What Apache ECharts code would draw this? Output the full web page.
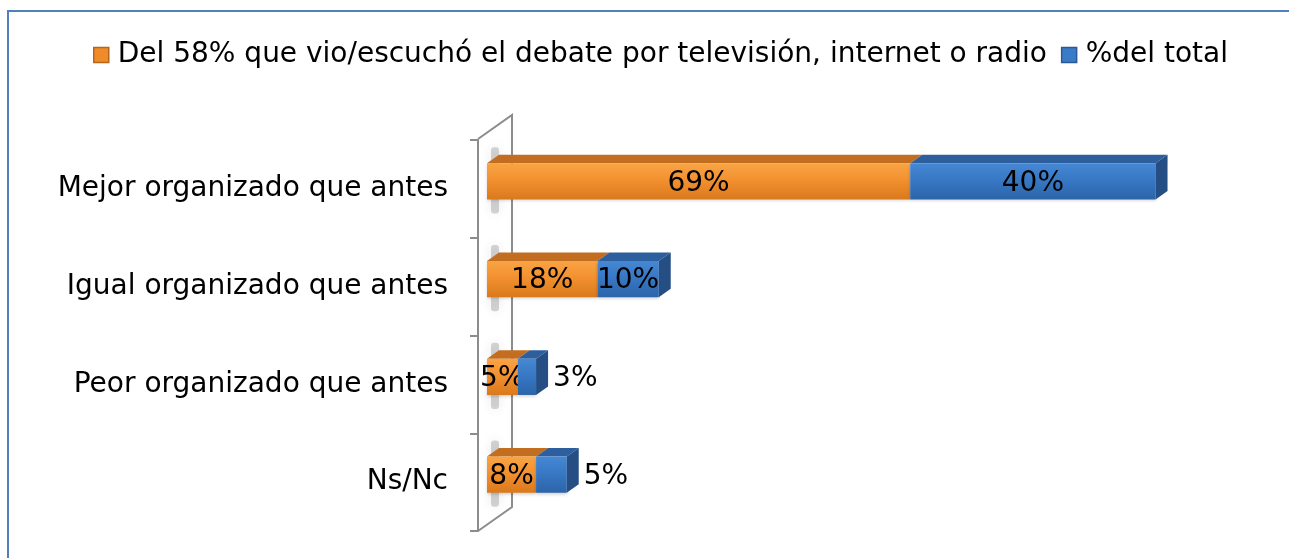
<!DOCTYPE html>
<html>
<head>
<meta charset="utf-8">
<title>Organización del debate</title>
<script src="https://cdn.jsdelivr.net/npm/echarts@6/dist/echarts.min.js"></script>
<style>
  html, body { margin: 0; padding: 0; background: #ffffff; }
  #chart { width: 1289px; height: 558px; }
</style>
</head>
<body>
<div id="chart"></div>
<script>
// Categories, top to bottom
const categories = [
  'Mejor organizado que antes',
  'Igual organizado que antes',
  'Peor organizado que antes',
  'Ns/Nc'
];
// Series names
const seriesNames = [
  'Del 58% que vio/escuchó el debate por televisión, internet o radio',
  '%del total'
];
// Percent among those who watched / listened to the debate
const watchedPct = [69, 18, 5, 8];
// Percent of the whole sample
const totalPct = [40, 10, 3, 5];

const FONT = '"DejaVu Sans", sans-serif';
const FONT_SIZE = 28;
const WALL_COLOR = '#8C8C8C';

// pseudo-3D geometry (pixels)
const FRONT_DX = 9, FRONT_DY = -7.5;   // bar front plane offset from the axis plane
const DEPTH_DX = 12, DEPTH_DY = -8.5;  // bar depth
const WALL_DX = 34, WALL_DY = -24;     // side wall depth

const measureCtx = document.createElement('canvas').getContext('2d');
function textWidth(t) {
  measureCtx.font = FONT_SIZE + 'px ' + FONT;
  return measureCtx.measureText(t).width;
}

const palette = {
  orange: { front: ['#F9A444', '#F39130', '#DA791C'], top: '#C26D1F', side: '#B0621A', legend: '#F08C28', legendBorder: '#B8651C' },
  blue:   { front: ['#4588D4', '#3878C5', '#2C64A8'], top: '#2D5F9E', side: '#244E84', legend: '#3A7BC8', legendBorder: '#2A5A95' }
};

function makeBarRenderer(colors, isLast) {
  return function (params, api) {
    const start = api.value(0);
    const end = api.value(1);
    const idx = api.value(2);
    const p0 = api.coord([start, idx]);
    const p1 = api.coord([end, idx]);
    const band = api.size([0, 1])[1];
    const h = band * 0.37;
    const x0 = p0[0] + FRONT_DX;
    const x1 = p1[0] + FRONT_DX;
    const yc = p0[1] + FRONT_DY;
    const y0 = yc - h / 2;
    const y1 = yc + h / 2;
    const children = [];
    // top face
    children.push({
      type: 'polygon',
      shape: { points: [[x0, y0], [x0 + DEPTH_DX, y0 + DEPTH_DY], [x1 + DEPTH_DX, y0 + DEPTH_DY], [x1, y0]] },
      style: { fill: colors.top }
    });
    // front face
    children.push({
      type: 'rect',
      shape: { x: x0, y: y0, width: x1 - x0, height: h },
      style: {
        fill: new echarts.graphic.LinearGradient(0, 0, 0, 1, [
          { offset: 0, color: colors.front[0] },
          { offset: 0.45, color: colors.front[1] },
          { offset: 1, color: colors.front[2] }
        ]),
        shadowBlur: 3,
        shadowOffsetY: 2,
        shadowColor: 'rgba(0,0,0,0.18)'
      }
    });
    // right face of the stack
    if (isLast) {
      children.push({
        type: 'polygon',
        shape: { points: [[x1, y0], [x1 + DEPTH_DX, y0 + DEPTH_DY], [x1 + DEPTH_DX, y1 + DEPTH_DY], [x1, y1]] },
        style: { fill: colors.side }
      });
    }
    // value label
    const txt = Math.round(end - start) + '%';
    const w = textWidth(txt);
    const outside = isLast && (x1 - x0) < w * 0.8;
    children.push({
      type: 'text',
      z2: 10,
      style: {
        text: txt,
        x: outside ? x1 + DEPTH_DX + 5 : (x0 + x1) / 2,
        y: yc + 2,
        align: outside ? 'left' : 'center',
        verticalAlign: 'middle',
        font: FONT_SIZE + 'px ' + FONT,
        fill: '#000000'
      }
    });
    return { type: 'group', children: children };
  };
}

// Side wall behind the bars, with the soft shadow each bar casts on it
function renderWall(params, api) {
  const cs = params.coordSys;
  const ax = cs.x, top = cs.y, bottom = cs.y + cs.height;
  const children = [];
  for (let i = 0; i < categories.length; i++) {
    const p = api.coord([0, i]);
    const band = api.size([0, 1])[1];
    const h = band * 0.37;
    const yc = p[1] + FRONT_DY;
    children.push({
      type: 'rect',
      shape: { x: p[0] + 13, y: yc - h / 2 - 16, width: 8, height: h + 30, r: 3 },
      style: { fill: 'rgba(0,0,0,0.16)', shadowBlur: 12, shadowColor: 'rgba(0,0,0,0.55)' }
    });
  }
  children.push({
    type: 'polyline',
    shape: { points: [[ax, top - 1], [ax + WALL_DX, top - 1 + WALL_DY], [ax + WALL_DX, bottom + WALL_DY], [ax, bottom]] },
    style: { stroke: WALL_COLOR, lineWidth: 2, fill: null }
  });
  return { type: 'group', children: children };
}

const chart = echarts.init(document.getElementById('chart'), null, { renderer: 'canvas' });

chart.setOption({
  backgroundColor: '#ffffff',
  animation: false,
  graphic: [{
    type: 'rect',
    z: -10,
    shape: { x: 8, y: 11, width: 1400, height: 700 },
    style: { fill: '#ffffff', stroke: '#4F81BD', lineWidth: 2 }
  }],
  legend: {
    left: 88,
    top: 35,
    itemWidth: 15,
    itemHeight: 15,
    itemGap: 14,
    icon: 'rect',
    textStyle: { fontFamily: FONT, fontSize: FONT_SIZE, color: '#000000', lineHeight: 30, padding: [0, 0, 0, 4] },
    data: [
      { name: seriesNames[0], itemStyle: { color: palette.orange.legend, borderColor: palette.orange.legendBorder, borderWidth: 1.5 } },
      { name: seriesNames[1], itemStyle: { color: palette.blue.legend, borderColor: palette.blue.legendBorder, borderWidth: 1.5 } }
    ]
  },
  grid: { left: 478, right: 75, top: 140, bottom: 27, containLabel: false },
  xAxis: { type: 'value', min: 0, max: 120, show: false },
  yAxis: {
    type: 'category',
    inverse: true,
    data: categories,
    axisLine: { show: true, lineStyle: { color: WALL_COLOR, width: 2 } },
    axisTick: { show: true, length: 8, lineStyle: { color: WALL_COLOR, width: 2 } },
    axisLabel: { margin: 30, fontFamily: FONT, fontSize: FONT_SIZE, color: '#000000' },
    splitLine: { show: false }
  },
  series: [
    {
      type: 'custom',
      name: 'wall',
      silent: true,
      z: 1,
      renderItem: renderWall,
      data: [[0, 0, 0]],
      encode: { x: 0, y: 2 }
    },
    {
      type: 'custom',
      name: seriesNames[0],
      z: 2,
      itemStyle: { color: palette.orange.legend },
      renderItem: makeBarRenderer(palette.orange, false),
      encode: { x: [0, 1], y: 2 },
      data: categories.map((c, i) => [0, watchedPct[i], i])
    },
    {
      type: 'custom',
      name: seriesNames[1],
      z: 3,
      itemStyle: { color: palette.blue.legend },
      renderItem: makeBarRenderer(palette.blue, true),
      encode: { x: [0, 1], y: 2 },
      data: categories.map((c, i) => [watchedPct[i], watchedPct[i] + totalPct[i], i])
    }
  ]
});
</script>
</body>
</html>
